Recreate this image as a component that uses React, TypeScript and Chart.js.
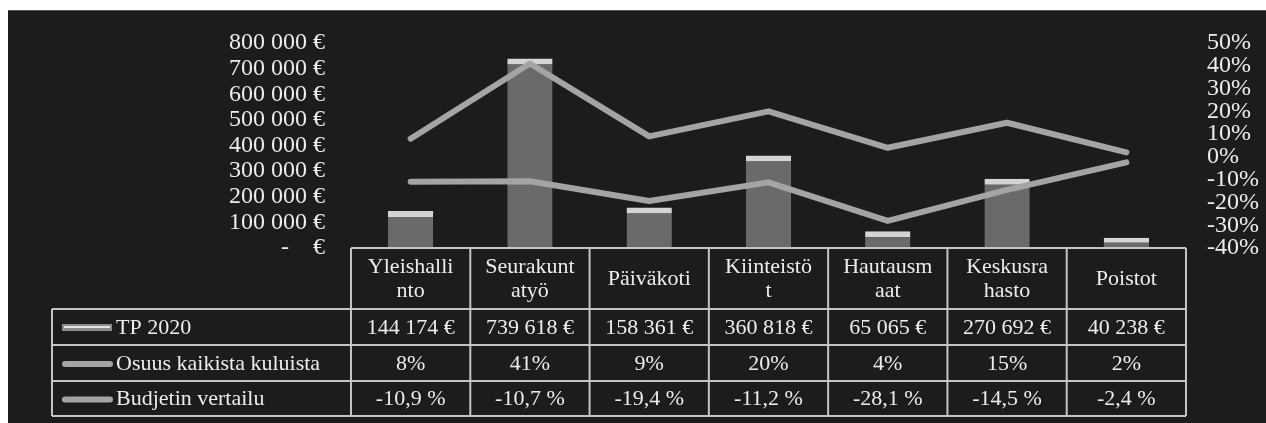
import React, { useEffect, useRef } from "react";
import { Chart, registerables } from "chart.js";

Chart.register(...registerables);

// ---- data ----
const categories = [
  "Yleishallinto",
  "Seurakuntatyö",
  "Päiväkoti",
  "Kiinteistöt",
  "Hautausmaat",
  "Keskusrahasto",
  "Poistot",
];
// header labels as they wrap in the data table
const headerLines = [
  ["Yleishalli", "nto"],
  ["Seurakunt", "atyö"],
  ["Päiväkoti"],
  ["Kiinteistö", "t"],
  ["Hautausm", "aat"],
  ["Keskusra", "hasto"],
  ["Poistot"],
];
const tp2020 = [144174, 739618, 158361, 360818, 65065, 270692, 40238];
const osuus = [8, 41, 9, 20, 4, 15, 2];
const budjetti = [-10.9, -10.7, -19.4, -11.2, -28.1, -14.5, -2.4];

const leftTicks = [0, 100000, 200000, 300000, 400000, 500000, 600000, 700000, 800000];
const rightTicks = [-40, -30, -20, -10, 0, 10, 20, 30, 40, 50];

const seriesNames = ["TP 2020", "Osuus kaikista kuluista", "Budjetin vertailu"];

// ---- formatting ----
const FONT = "'Liberation Serif', 'DejaVu Serif', serif";
const TEXT = "#ececec";
const GRID = "#c4c4c4";
const LINE_COLOR = "#a4a4a4";

const groupThousands = (v: number) =>
  String(Math.round(v)).replace(/\B(?=(\d{3})+(?!\d))/g, " ");
const fmtEuro = (v: number) => (v === 0 ? "-    €" : groupThousands(v) + " €");
const fmtPctInt = (v: number) => `${v}%`;
const fmtPctDec = (v: number) => `${v.toFixed(1).replace(".", ",")} %`;

const tableRows: string[][] = [
  tp2020.map(fmtEuro),
  osuus.map(fmtPctInt),
  budjetti.map(fmtPctDec),
];

const W = 1258;
const H = 413;
const HEADER_H = 61;
const ROW_H = [36, 36, 35];
const LEGEND_LEFT = 44;

const bgPlugin = {
  id: "bgFill",
  beforeDraw(chart: any) {
    const { ctx } = chart;
    ctx.save();
    ctx.fillStyle = "#1c1c1c";
    ctx.fillRect(0, 0, chart.width, chart.height);
    ctx.fillStyle = "#5a5a5a";
    ctx.fillRect(0, 0, chart.width, 1);
    ctx.restore();
  },
};

const tablePlugin = {
  id: "dataTable",
  afterDraw(chart: any) {
    const { ctx, chartArea } = chart;
    const x = chart.scales.x;
    const n = categories.length;
    const left = chartArea.left;
    const right = chartArea.right;
    const colW = (right - left) / n;
    const top = chartArea.bottom;
    const headerBottom = top + HEADER_H;
    const rowBottoms: number[] = [];
    let acc = headerBottom;
    ROW_H.forEach((h) => {
      acc += h;
      rowBottoms.push(acc);
    });
    const bottom = rowBottoms[rowBottoms.length - 1];

    ctx.save();
    ctx.strokeStyle = GRID;
    ctx.lineWidth = 2;
    ctx.beginPath();
    ctx.moveTo(left, top);
    ctx.lineTo(right, top);
    [headerBottom, ...rowBottoms].forEach((y) => {
      ctx.moveTo(LEGEND_LEFT, y);
      ctx.lineTo(right, y);
    });
    for (let i = 0; i <= n; i++) {
      const cx = left + i * colW;
      ctx.moveTo(cx, top);
      ctx.lineTo(cx, bottom);
    }
    ctx.moveTo(LEGEND_LEFT, headerBottom);
    ctx.lineTo(LEGEND_LEFT, bottom);
    ctx.stroke();

    ctx.fillStyle = TEXT;
    ctx.font = `22px ${FONT}`;
    ctx.textAlign = "center";
    ctx.textBaseline = "middle";
    const hc = (top + headerBottom) / 2;
    headerLines.forEach((lines, i) => {
      const cx = x.getPixelForValue(i);
      const lh = 24;
      lines.forEach((ln, j) => {
        const y = hc + (j - (lines.length - 1) / 2) * lh;
        ctx.fillText(ln, cx, y + 1);
      });
    });

    let rowTop = headerBottom;
    tableRows.forEach((row, r) => {
      const rb = rowBottoms[r];
      const cy = (rowTop + rb) / 2 + 1;
      ctx.textAlign = "center";
      row.forEach((txt, i) => {
        ctx.fillText(txt, x.getPixelForValue(i), cy);
      });
      const ds = chart.data.datasets[r];
      if (r === 0) {
        ctx.fillStyle = "#8c8c8c";
        ctx.fillRect(54, cy - 4, 50, 7);
        ctx.fillStyle = "#e4e4e4";
        ctx.fillRect(56, cy - 2, 46, 2);
      } else {
        ctx.strokeStyle = ds.borderColor;
        ctx.lineWidth = 6;
        ctx.lineCap = "round";
        ctx.beginPath();
        ctx.moveTo(57, cy);
        ctx.lineTo(102, cy);
        ctx.stroke();
      }
      ctx.fillStyle = TEXT;
      ctx.textAlign = "left";
      ctx.fillText(seriesNames[r], 108, cy);
      rowTop = rb;
    });
    ctx.restore();
  },
};

export default function App() {
  const ref = useRef<HTMLCanvasElement | null>(null);

  useEffect(() => {
    if (!ref.current) return;
    const chart = new Chart(ref.current, {
      data: {
        labels: categories,
        datasets: [
          {
            type: "bar",
            label: seriesNames[0],
            data: tp2020,
            yAxisID: "y",
            backgroundColor: "#6a6a6a",
            borderColor: "#d4d4d4",
            borderWidth: { top: 6, left: 0, right: 0, bottom: 0 },
            borderSkipped: "bottom",
            barPercentage: 0.38,
            categoryPercentage: 1,
            order: 3,
          } as any,
          {
            type: "line",
            label: seriesNames[1],
            data: osuus,
            yAxisID: "y1",
            borderColor: LINE_COLOR,
            backgroundColor: LINE_COLOR,
            borderWidth: 6,
            pointRadius: 0,
            tension: 0,
            borderCapStyle: "round",
            borderJoinStyle: "round",
            order: 1,
          } as any,
          {
            type: "line",
            label: seriesNames[2],
            data: budjetti,
            yAxisID: "y1",
            borderColor: LINE_COLOR,
            backgroundColor: LINE_COLOR,
            borderWidth: 6,
            pointRadius: 0,
            tension: 0,
            borderCapStyle: "round",
            borderJoinStyle: "round",
            order: 2,
          } as any,
        ],
      },
      options: {
        responsive: false,
        animation: false,
        layout: { padding: { top: 33, bottom: 175, left: 0, right: 0 } },
        plugins: {
          legend: { display: false },
          tooltip: { enabled: false },
        },
        scales: {
          x: {
            type: "category",
            display: false,
            offset: true,
            grid: { display: false },
          },
          y: {
            position: "left",
            min: 0,
            max: 800000,
            grid: { display: false, drawTicks: true, tickLength: 26 },
            border: { display: false },
            afterBuildTicks: (s: any) => {
              s.ticks = leftTicks.map((v) => ({ value: v }));
            },
            afterFit: (s: any) => {
              s.width = 343;
            },
            ticks: {
              autoSkip: false,
              padding: 0,
              color: TEXT,
              font: { family: FONT, size: 24 },
              callback: (v: any) => fmtEuro(Number(v)),
            },
          },
          y1: {
            position: "right",
            min: -40,
            max: 50,
            grid: { display: false, drawTicks: true, tickLength: 21 },
            border: { display: false },
            afterBuildTicks: (s: any) => {
              s.ticks = rightTicks.map((v) => ({ value: v }));
            },
            afterFit: (s: any) => {
              s.width = 80;
            },
            ticks: {
              autoSkip: false,
              padding: 0,
              color: TEXT,
              font: { family: FONT, size: 24 },
              callback: (v: any) => `${v}%`,
            },
          },
        },
      },
      plugins: [bgPlugin, tablePlugin],
    });
    return () => chart.destroy();
  }, []);

  return (
    <div style={{ position: "absolute", left: 8, top: 10, width: W, height: H }}>
      <canvas ref={ref} width={W} height={H} style={{ display: "block", width: W, height: H }} />
    </div>
  );
}
